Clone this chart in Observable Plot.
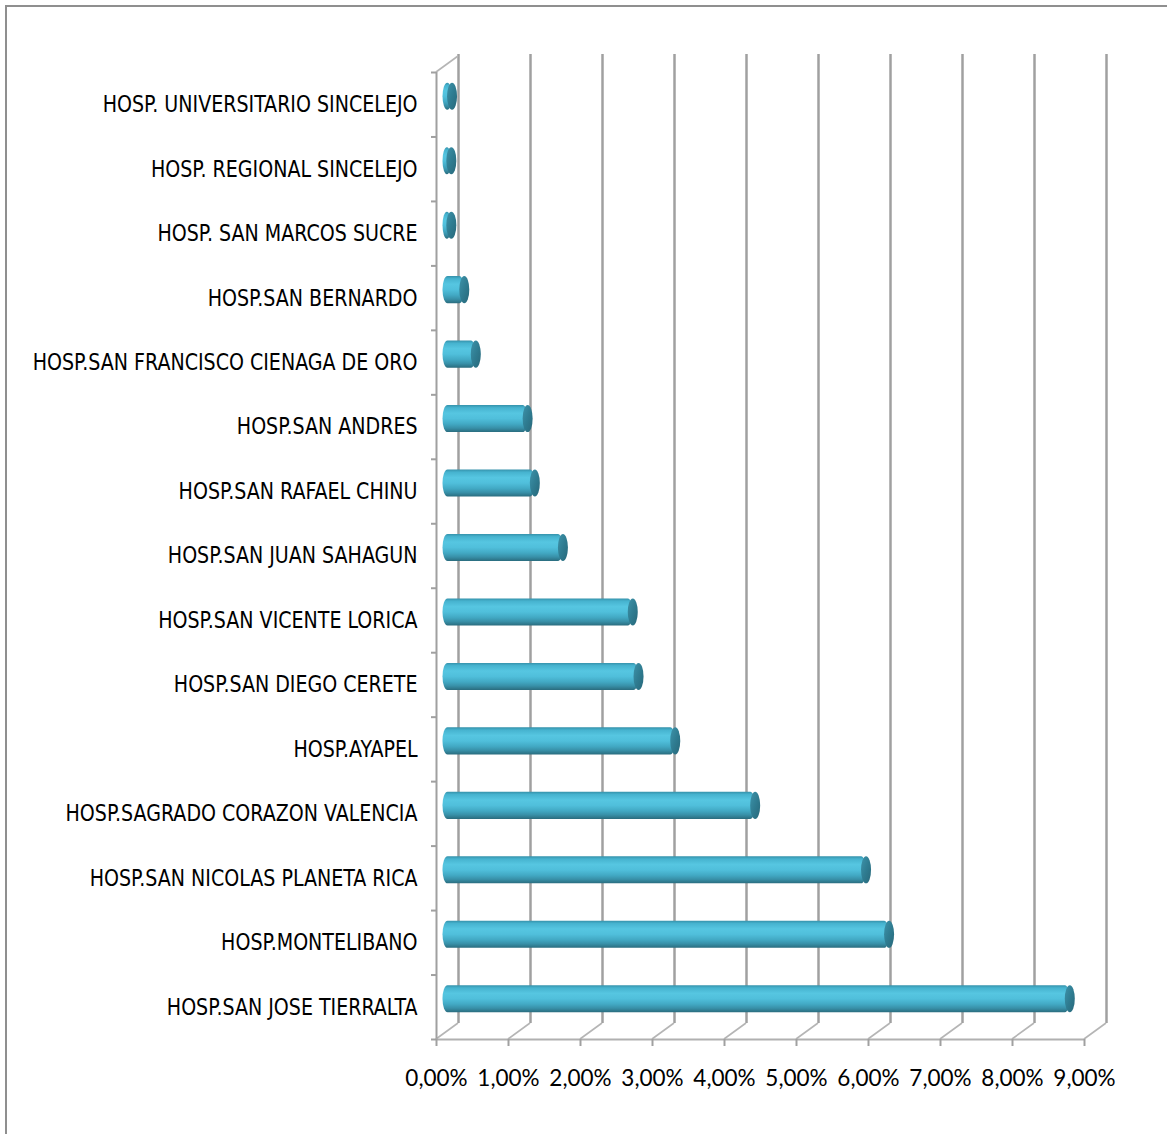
<!DOCTYPE html>
<html><head><meta charset="utf-8">
<script src="https://cdn.jsdelivr.net/npm/d3@7"></script>
<script src="https://cdn.jsdelivr.net/npm/@observablehq/plot@0.6"></script>
<style>
html,body{margin:0;padding:0;background:#fff;}
#wrap{position:relative;width:1167px;height:1134px;overflow:hidden;background:#fff;}
#border{position:absolute;left:5px;top:5px;width:1250px;height:1250px;border:2px solid #8f8f8f;box-sizing:border-box;}
#chart{position:absolute;left:0;top:0;}
</style></head><body>
<div id="wrap"><div id="border"></div><div id="chart"></div></div>
<script>
// Categories, top to bottom
const categories = [
  "HOSP. UNIVERSITARIO SINCELEJO",
  "HOSP. REGIONAL SINCELEJO",
  "HOSP. SAN MARCOS SUCRE",
  "HOSP.SAN BERNARDO",
  "HOSP.SAN FRANCISCO CIENAGA DE ORO",
  "HOSP.SAN ANDRES",
  "HOSP.SAN RAFAEL CHINU",
  "HOSP.SAN JUAN SAHAGUN",
  "HOSP.SAN VICENTE LORICA",
  "HOSP.SAN DIEGO CERETE",
  "HOSP.AYAPEL",
  "HOSP.SAGRADO CORAZON VALENCIA",
  "HOSP.SAN NICOLAS PLANETA RICA",
  "HOSP.MONTELIBANO",
  "HOSP.SAN JOSE TIERRALTA"
];
// Values in percent
const values = [0.07, 0.06, 0.06, 0.24, 0.40, 1.12, 1.22, 1.61, 2.58, 2.66, 3.17, 4.28, 5.82, 6.14, 8.65];
const xTicks = [0, 1, 2, 3, 4, 5, 6, 7, 8, 9];
const tickLabels = ["0,00%", "1,00%", "2,00%", "3,00%", "4,00%", "5,00%", "6,00%", "7,00%", "8,00%", "9,00%"];

const rows = categories.map((name, i) => ({name, value: values[i], i}));
const rowEdges = d3.range(categories.length + 1);
const nRows = categories.length;

const DX = 22, DY = -16;          // depth offset of back wall
const BDX = 11, BDY = -8;         // bars sit mid-depth
const gridColor = "#a0a0a0";

const depthLines = (index, scales) => {
  const {x, y} = scales;
  const g = d3.create("svg:g").attr("stroke", "#b5b5b5").attr("stroke-width", 1.6).attr("fill", "none");
  for (const t of xTicks) {
    g.append("line")
      .attr("x1", x(t)).attr("y1", y(nRows))
      .attr("x2", x(t) + DX).attr("y2", y(nRows) + DY);
  }
  g.append("line")
    .attr("x1", x(0)).attr("y1", y(0))
    .attr("x2", x(0) + DX).attr("y2", y(0) + DY);
  return g.node();
};

const bandInset = 18.7;

const chart = Plot.plot({
  width: 1167,
  height: 1134,
  marginLeft: 436,
  marginRight: 83,
  marginTop: 72,
  marginBottom: 95,
  style: {background: "transparent", fontFamily: "Lato, sans-serif"},
  x: {domain: [0, 9], range: [436, 1084], axis: null},
  y: {domain: [0, nRows], range: [72, 1039], axis: null},
  marks: [
    // back wall gridlines
    Plot.ruleX(xTicks, {x: d => d, dx: DX, dy: DY, insetTop: -2, stroke: gridColor, strokeWidth: 2.5}),
    // floor depth lines
    depthLines,
    // front left axis
    Plot.ruleX([0], {x: d => d, stroke: gridColor, strokeWidth: 2}),
    // front bottom axis
    Plot.ruleY([nRows], {y: d => d, x1: 0, x2: 9, stroke: "#b0b0b0", strokeWidth: 2}),
    // left tick marks
    Plot.ruleY(rowEdges, {y: d => d, x1: 0, x2: 0, insetLeft: -5, stroke: gridColor, strokeWidth: 2}),
    // bottom tick marks
    Plot.ruleX(xTicks, {x: d => d, y1: nRows, y2: nRows, insetBottom: -7, stroke: gridColor, strokeWidth: 2}),
    // cylinder bodies
    Plot.rect(rows, {
      x1: 0, x2: "value", y1: d => d.i, y2: d => d.i + 1,
      insetTop: bandInset, insetBottom: bandInset, insetLeft: -4.5,
      rx: 5, ry: 13.5, dx: BDX, dy: BDY, fill: "url(#cylBody)"
    }),
    // cylinder end caps
    Plot.rect(rows, {
      x1: "value", x2: "value", y1: d => d.i, y2: d => d.i + 1,
      insetTop: bandInset, insetBottom: bandInset, insetLeft: -5, insetRight: -5,
      rx: 5, ry: 13.5, dx: BDX, dy: BDY, fill: "url(#cylCap)"
    }),
    // category labels
    Plot.text(rows, {
      x: 0, y: d => d.i + 0.5, text: "name", textAnchor: "end", dx: -19,
      fontSize: 23, fill: "#000", className: "catlabel",
      fontFamily: "'DejaVu Sans Condensed', 'Liberation Sans Narrow', sans-serif"
    }),
    // x tick labels
    Plot.text(xTicks, {
      x: d => d, y: nRows, text: (d, i) => tickLabels[i], dy: 39,
      fontSize: 22.5, fill: "#000", fontFamily: "Lato, 'Open Sans', sans-serif"
    })
  ]
});

const defs = d3.select(chart).insert("defs", ":first-child");
const body = defs.append("linearGradient").attr("id", "cylBody")
  .attr("x1", 0).attr("y1", 0).attr("x2", 0).attr("y2", 1);
[[0, "#3592ab"], [0.1, "#46b3cf"], [0.3, "#56c6e1"], [0.5, "#50bfdb"], [0.7, "#42a9c4"], [0.85, "#3890a8"], [1, "#2a6c7e"]]
  .forEach(([o, c]) => body.append("stop").attr("offset", o).attr("stop-color", c));
const cap = defs.append("linearGradient").attr("id", "cylCap")
  .attr("x1", 0).attr("y1", 0).attr("x2", 1).attr("y2", 1);
[[0, "#3e93aa"], [0.5, "#2f7c91"], [1, "#28687a"]]
  .forEach(([o, c]) => cap.append("stop").attr("offset", o).attr("stop-color", c));

document.getElementById("chart").appendChild(chart);

// condense category labels horizontally to match the narrow original typeface
const squeeze = 0.92;
chart.querySelectorAll("g.catlabel text, .catlabel text").forEach(t => {
  const len = t.getComputedTextLength();
  if (len > 0) {
    t.setAttribute("textLength", (len * squeeze).toFixed(1));
    t.setAttribute("lengthAdjust", "spacingAndGlyphs");
  }
});
</script>
</body></html>
